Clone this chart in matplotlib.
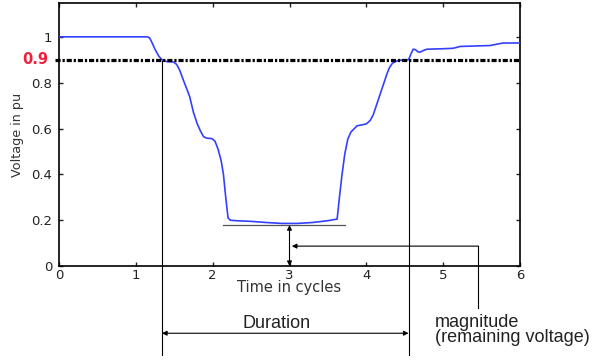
import matplotlib
matplotlib.use("Agg")
import matplotlib.pyplot as plt

# Voltage sag waveform (rms, per unit) versus time in cycles
time_cycles = [0.0, 1.15, 1.18, 1.21, 1.25, 1.30, 1.34, 1.40, 1.49, 1.53, 1.57,
               1.62, 1.70, 1.75, 1.80, 1.84, 1.88, 1.92, 1.99, 2.03, 2.07, 2.11,
               2.14, 2.17, 2.20, 2.23, 2.30, 2.50, 2.70, 2.90, 3.10, 3.30, 3.50,
               3.62, 3.65, 3.68, 3.72, 3.76, 3.80, 3.88, 4.00, 4.05, 4.09, 4.18,
               4.27, 4.30, 4.34, 4.40, 4.48, 4.55, 4.58, 4.61, 4.64, 4.67, 4.70,
               4.74, 4.79, 5.00, 5.13, 5.22, 5.61, 5.70, 5.78, 6.00]
voltage_pu = [1.0, 1.0, 0.995, 0.975, 0.945, 0.915, 0.90, 0.892, 0.89, 0.88, 0.855,
              0.81, 0.74, 0.67, 0.62, 0.59, 0.565, 0.558, 0.556, 0.545, 0.51, 0.46,
              0.40, 0.30, 0.21, 0.20, 0.198, 0.195, 0.19, 0.186, 0.186, 0.19, 0.198,
              0.205, 0.30, 0.39, 0.49, 0.555, 0.585, 0.612, 0.62, 0.635, 0.66, 0.75,
              0.84, 0.865, 0.885, 0.895, 0.90, 0.90, 0.925, 0.946, 0.944, 0.935, 0.933,
              0.94, 0.946, 0.948, 0.95, 0.958, 0.962, 0.968, 0.973, 0.973]

x_ticks = [0, 1, 2, 3, 4, 5, 6]
y_ticks = [0, 0.2, 0.4, 0.6, 0.8, 1]
y_tick_labels = ["0", "0.2", "0.4", "0.6", "0.8", "1"]

threshold = 0.9
sag_start = 1.34
sag_end = 4.55
remaining_voltage = 0.179

fig = plt.figure(figsize=(6.01, 3.62), dpi=100)
ax = fig.add_axes([0.0982, 0.265, 0.767, 0.727])

ax.plot(time_cycles, voltage_pu, color="#3340ff", lw=1.2, zorder=3)

ax.set_xlim(0, 6)
ax.set_ylim(0, 1.148)
ax.set_xticks(x_ticks)
ax.set_yticks(y_ticks)
ax.set_yticklabels(y_tick_labels)
ax.tick_params(direction="in", length=3, width=1, top=True, right=True,
               labelsize=9.5, colors="#222222")
ax.tick_params(axis="y", pad=5)
ax.tick_params(axis="x", pad=2)
for sp in ax.spines.values():
    sp.set_linewidth(1.2)

ax.set_xlabel("Time in cycles", fontsize=10.5, color="#333333", labelpad=-1)
ax.set_ylabel("Voltage in pu", fontsize=9.2, color="#333333", labelpad=5)

# 0.9 pu threshold
ax.plot([-0.05, 6], [threshold, threshold], color="black", lw=2.3,
        linestyle=(0, (1.6, 0.6, 0.7, 0.6)), clip_on=False, zorder=4)
ax.text(-0.14, threshold, "0.9", color="#f0203c", fontsize=10.5, fontweight="bold",
        ha="right", va="center")

ann = dict(color="black", lw=0.8, clip_on=False, zorder=2)

# sag boundaries and duration
ax.plot([sag_start, sag_start], [threshold, -0.389], **ann)
ax.plot([sag_end, sag_end], [threshold, -0.389], **ann)
ax.annotate("", xy=(sag_start, -0.293), xytext=(sag_end, -0.293),
            xycoords="data", annotation_clip=False,
            arrowprops=dict(arrowstyle="<|-|>", color="black", lw=0.8,
                            mutation_scale=7, shrinkA=0, shrinkB=0))
ax.text(2.83, -0.249, "Duration", fontsize=13, family="Liberation Sans",
        ha="center", va="center", color="#222222")

# remaining voltage
ax.plot([2.135, 3.72], [remaining_voltage, remaining_voltage], color="#555555",
        lw=0.9, clip_on=False, zorder=2)
ax.annotate("", xy=(3.0, remaining_voltage), xytext=(3.0, 0),
            xycoords="data", annotation_clip=False,
            arrowprops=dict(arrowstyle="<|-|>", color="black", lw=0.8,
                            mutation_scale=7, shrinkA=0, shrinkB=0))
ax.annotate("", xy=(3.03, 0.087), xytext=(5.46, 0.087),
            xycoords="data", annotation_clip=False,
            arrowprops=dict(arrowstyle="-|>", color="black", lw=0.8,
                            mutation_scale=7, shrinkA=0, shrinkB=0))
ax.plot([5.46, 5.46], [0.087, -0.183], **ann)
ax.text(4.895, -0.279, "magnitude\n(remaining voltage)", fontsize=13,
        family="Liberation Sans", ha="left", va="center", multialignment="left",
        linespacing=0.82, color="#222222")

fig.savefig("out.png", dpi=100)
